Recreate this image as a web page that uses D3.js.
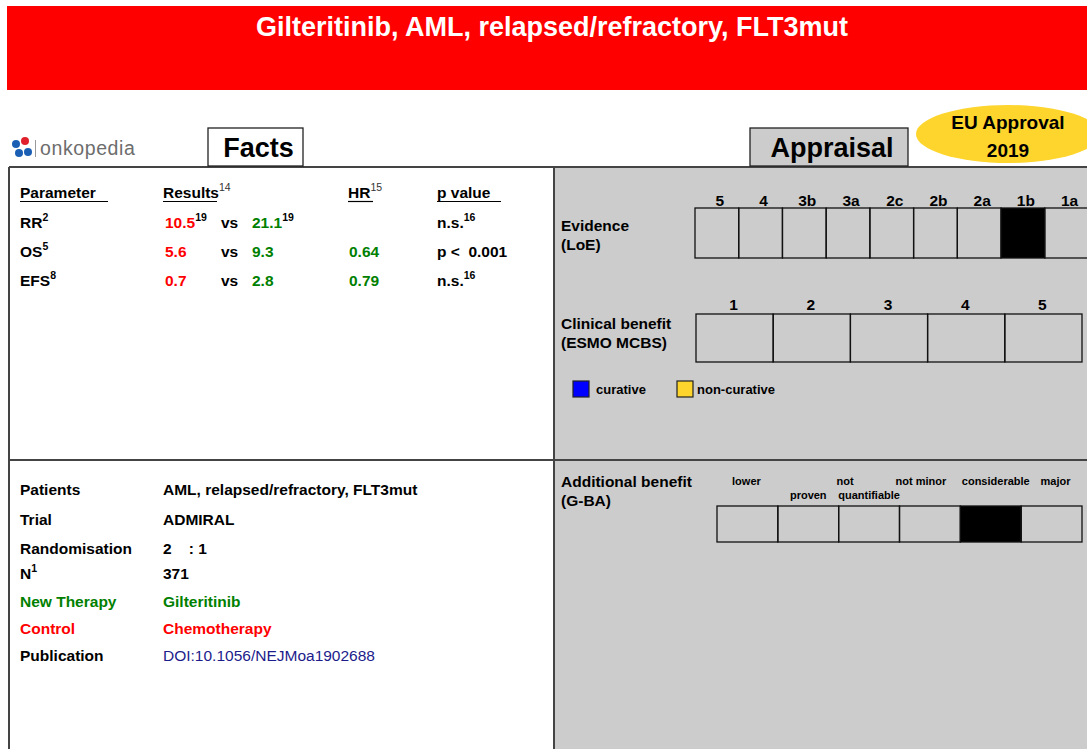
<!DOCTYPE html>
<html>
<head>
<meta charset="utf-8">
<script src="https://cdn.jsdelivr.net/npm/d3@7"></script>
<style>
  body { margin: 0; background: #fff; }
  text { font-family: "Liberation Sans", Arial, sans-serif; white-space: pre; }
</style>
</head>
<body>
<div id="chart"></div>
<script>
// data
const title = "Gilteritinib, AML, relapsed/refractory, FLT3mut";
const approval = ["EU Approval", "2019"];

const factHeaders = [
  { text: "Parameter", sup: "", x: 20, ul: 108 },
  { text: "Results", sup: "14", x: 163, ul: 217 },
  { text: "HR", sup: "15", x: 348, ul: 373 },
  { text: "p value", sup: "", x: 437, ul: 501 }
];
const factParams = [["RR", "2"], ["OS", "5"], ["EFS", "8"]];
const controlValues = [["10.5", "19"], ["5.6", ""], ["0.7", ""]];
const newValues = [["21.1", "19"], ["9.3", ""], ["2.8", ""]];
const hrValues = ["", "0.64", "0.79"];
const pValues = [["n.s.", "16"], ["p <  0.001", ""], ["n.s.", "16"]];

const studyLabels = ["Patients", "Trial", "Randomisation", "N", "New Therapy", "Control", "Publication"];
const studyValues = ["AML, relapsed/refractory, FLT3mut", "ADMIRAL", "2    : 1", "371", "Gilteritinib", "Chemotherapy", "DOI:10.1056/NEJMoa1902688"];
const studyColors = ["#000", "#000", "#000", "#000", "#008000", "#ff0000", "#000"];
const studyValueColors = ["#000", "#000", "#000", "#000", "#008000", "#ff0000", "#1c1c8c"];
const studyY = [495, 525, 554, 579, 607, 634, 661];

const loeLevels = ["5", "4", "3b", "3a", "2c", "2b", "2a", "1b", "1a"];
const loeSelected = "1b";
const mcbsLevels = ["1", "2", "3", "4", "5"];
const mcbsSelected = null;
const gbaLevels = ["lower", "not proven", "not quantifiable", "not minor", "considerable", "major"];
const gbaSelected = "considerable";
const legendItems = [["curative", "#0000ff"], ["non-curative", "#fdd52c"]];

const W = 1087, H = 749;
const FS = 15.5;
const svg = d3.select("#chart").append("svg")
  .attr("width", W).attr("height", H);

// header
svg.append("rect").attr("x", 7).attr("y", 6).attr("width", W - 7).attr("height", 84).attr("fill", "#ff0000");
svg.append("text").attr("x", 552).attr("y", 36).attr("text-anchor", "middle")
  .attr("fill", "#fff").attr("font-size", 27).attr("font-weight", "bold").text(title);

// logo
const dots = [[16, 144, "#1a5fb4"], [25, 141, "#e0202c"], [19, 153, "#1a5fb4"], [28, 152, "#1a5fb4"]];
svg.selectAll("circle.logo").data(dots).join("circle")
  .attr("cx", d => d[0]).attr("cy", d => d[1]).attr("r", 4).attr("fill", d => d[2]);
svg.append("rect").attr("x", 35).attr("y", 140).attr("width", 1).attr("height", 17).attr("fill", "#999");
svg.append("text").attr("x", 40).attr("y", 155).attr("font-size", 19.5).attr("fill", "#6d6d6d")
  .attr("font-family", "Roboto, 'Open Sans', sans-serif").attr("font-weight", 500).attr("letter-spacing", 0.6)
  .text("onkopedia");

// right gray panel
svg.append("rect").attr("x", 554).attr("y", 167).attr("width", W - 554).attr("height", H - 167).attr("fill", "#cccccc");

// frame lines
const line = (x1, y1, x2, y2) => svg.append("line").attr("x1", x1).attr("y1", y1).attr("x2", x2).attr("y2", y2)
  .attr("stroke", "#444").attr("stroke-width", 2);
line(9, 167, W, 167);
line(9, 167, 9, H);
line(554, 167, 554, H);
line(9, 460, W, 460);

// tab boxes
function tab(x, w, label, fill, dx) {
  svg.append("rect").attr("x", x).attr("y", 128).attr("width", w).attr("height", 38)
    .attr("fill", fill).attr("stroke", "#222").attr("stroke-width", 1.3);
  svg.append("text").attr("x", x + w / 2 + dx).attr("y", 157).attr("text-anchor", "middle")
    .attr("font-size", 27).attr("font-weight", "bold").text(label);
}
tab(208, 95, "Facts", "#fff", 3);
tab(750, 158, "Appraisal", "#cccccc", 3);

// approval ellipse
svg.append("ellipse").attr("cx", 1008).attr("cy", 134).attr("rx", 92).attr("ry", 29).attr("fill", "#fdd52c");
svg.selectAll("text.appr").data(approval).join("text")
  .attr("x", 1008).attr("y", (d, i) => 129 + i * 28).attr("text-anchor", "middle")
  .attr("font-size", 19).attr("font-weight", "bold").text(d => d);

// text helper with superscript
function supText(g, x, y, main, sup, color, supWeight, supColor) {
  const t = g.append("text").attr("x", x).attr("y", y).attr("font-size", FS)
    .attr("font-weight", "bold").attr("fill", color || "#000");
  t.append("tspan").text(main);
  if (sup) t.append("tspan").attr("dy", -7).attr("font-size", 10.5)
    .attr("font-weight", supWeight || "bold").attr("fill", supColor || "#000").text(sup);
  return t;
}

// facts table
const facts = svg.append("g");
factHeaders.forEach(h => {
  supText(facts, h.x, 198, h.text, h.sup, "#000", "normal", "#333");
  facts.append("line").attr("x1", h.x).attr("x2", h.ul).attr("y1", 201.5).attr("y2", 201.5)
    .attr("stroke", "#000").attr("stroke-width", 1.2);
});
const rowY = d3.scalePoint().domain(d3.range(factParams.length)).range([228, 286]);
factParams.forEach((p, i) => {
  const y = rowY(i);
  supText(facts, 20, y, p[0], p[1]);
  supText(facts, 165, y, controlValues[i][0], controlValues[i][1], "#ff0000");
  supText(facts, 221, y, "vs", "");
  supText(facts, 252, y, newValues[i][0], newValues[i][1], "#008000");
  if (hrValues[i]) supText(facts, 349, y, hrValues[i], "", "#008000");
  supText(facts, 437, y, pValues[i][0], pValues[i][1]);
});

// study details
studyLabels.forEach((l, i) => {
  supText(svg, 20, studyY[i], l, l === "N" ? "1" : "", studyColors[i]);
  svg.append("text").attr("x", 163).attr("y", studyY[i]).attr("font-size", FS)
    .attr("font-weight", i === 6 ? "normal" : "bold").attr("fill", studyValueColors[i])
    .text(studyValues[i]);
});

// two-line labels on the right
function label2(lines, y) {
  svg.selectAll(null).data(lines).join("text")
    .attr("x", 561).attr("y", (d, i) => y + i * 19).attr("font-size", FS).attr("font-weight", "bold").text(d => d);
}
label2(["Evidence", "(LoE)"], 231);
label2(["Clinical benefit", "(ESMO MCBS)"], 329);
label2(["Additional benefit", "(G-BA)"], 487);

// grid helper
function grid(levels, selected, x0, x1, y, h) {
  const xs = d3.scaleBand().domain(levels).range([x0, x1]);
  const g = svg.append("g");
  g.selectAll("rect").data(levels).join("rect")
    .attr("x", d => xs(d)).attr("y", y).attr("width", xs.bandwidth()).attr("height", h)
    .attr("fill", d => d === selected ? "#000" : "none")
    .attr("stroke", "#111").attr("stroke-width", 1.3);
  return xs;
}

const xLoe = grid(loeLevels, loeSelected, 695, 1088.5, 208, 50);
svg.selectAll("text.loe").data(loeLevels).join("text")
  .attr("x", d => xLoe(d) + xLoe.bandwidth() / 2 + 3).attr("y", 206).attr("text-anchor", "middle")
  .attr("font-size", FS).attr("font-weight", "bold").text(d => d);

const xMcbs = grid(mcbsLevels, mcbsSelected, 696, 1082, 314, 48);
svg.selectAll("text.mcbs").data(mcbsLevels).join("text")
  .attr("x", d => xMcbs(d) + xMcbs.bandwidth() / 2 - 1).attr("y", 310).attr("text-anchor", "middle")
  .attr("font-size", FS).attr("font-weight", "bold").text(d => d);

// legend
legendItems.forEach((d, i) => {
  const x = [573, 677][i];
  svg.append("rect").attr("x", x).attr("y", 381).attr("width", 16).attr("height", 16)
    .attr("fill", d[1]).attr("stroke", "#222").attr("stroke-width", 1.2);
  svg.append("text").attr("x", x + [23, 20][i]).attr("y", 394).attr("font-size", 13).attr("font-weight", "bold")
    .text(d[0]);
});

const xGba = grid(gbaLevels, gbaSelected, 717, 1082, 506, 36);
// G-BA labels placed as in the picture (split words on two rows)
const gbaText = [
  ["lower", 0, -1, 0], ["proven", 1, 0, 1], ["not", 2, -24, 0], ["quantifiable", 2, 0, 1],
  ["not minor", 3, -9, 0], ["considerable", 4, 5, 0], ["major", 5, 4, 0]
];
svg.selectAll("text.gba").data(gbaText).join("text")
  .attr("x", d => xGba(gbaLevels[d[1]]) + xGba.bandwidth() / 2 + d[2])
  .attr("y", d => 485 + d[3] * 14).attr("text-anchor", "middle")
  .attr("font-size", 11).attr("font-weight", "bold").text(d => d[0]);
</script>
</body>
</html>
